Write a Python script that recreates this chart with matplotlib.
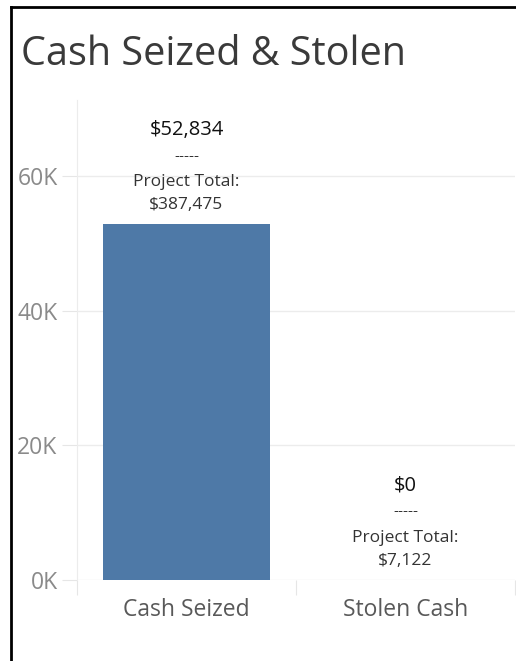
import matplotlib
matplotlib.use("Agg")
import matplotlib.pyplot as plt
from matplotlib.lines import Line2D

plt.rcParams["font.family"] = ["Open Sans", "DejaVu Sans"]

categories = ["Cash Seized", "Stolen Cash"]
amounts = [52834, 0]
project_totals = [387475, 7122]
y_ticks = [0, 20000, 40000, 60000]
y_tick_labels = ["0K", "20K", "40K", "60K"]


def main():
    fig = plt.figure(figsize=(5.16, 6.61), dpi=100)
    ax = fig.add_axes([77 / 516, 81 / 661, 438 / 516, 480 / 661])

    x = range(len(categories))
    ax.bar(x, amounts, width=0.76, color="#4e79a7", zorder=3)

    # Labels above each bar: value, separator, project total.
    for i, (val, tot) in enumerate(zip(amounts, project_totals)):
        ax.annotate("${:,}".format(val), (i, val), xytext=(0, 94),
                    textcoords="offset pixels", ha="center", va="center",
                    fontsize=14.5, color="#111111")
        ax.annotate("-----", (i, val), xytext=(0, 68),
                    textcoords="offset pixels", ha="center", va="center",
                    fontsize=11, color="#333333")
        ax.annotate("Project Total:", (i, val), xytext=(0, 42),
                    textcoords="offset pixels", ha="center", va="center",
                    fontsize=12.5, color="#333333")
        ax.annotate("${:,}".format(tot), (i, val), xytext=(0, 19),
                    textcoords="offset pixels", ha="center", va="center",
                    fontsize=12.5, color="#333333")

    ax.set_xlim(-0.5, 1.5)
    ax.set_ylim(0, 71300)
    ax.set_yticks(y_ticks)
    ax.set_yticklabels(y_tick_labels, fontsize=16.5, color="#8a8a8a")
    ax.set_xticks([-0.5, 0.5, 1.5])
    ax.set_xticklabels([])
    ax.set_xticks([0, 1], minor=True)
    ax.set_xticklabels(categories, minor=True, fontsize=16.5, color="#595959")
    ax.tick_params(axis="x", which="major", length=11, color="#e6e6e6")
    ax.tick_params(axis="x", which="minor", length=0, pad=13)
    ax.tick_params(axis="y", length=11, color="#e6e6e6", pad=3)

    ax.grid(axis="y", color="#ececec", linewidth=1, zorder=0)
    for side in ["top", "right", "bottom"]:
        ax.spines[side].set_visible(False)
    ax.spines["left"].set_color("#ececec")

    fig.text(21 / 516, 1 - 55 / 661, "Cash Seized & Stolen", fontsize=28.5,
             color="#3a3a3a", va="center", ha="left")

    # Dashboard frame (left and top edges).
    fig.add_artist(Line2D([11 / 516, 11 / 516], [0, 1 - 7 / 661],
                          transform=fig.transFigure, color="black", lw=2))
    fig.add_artist(Line2D([11 / 516, 1], [1 - 7 / 661, 1 - 7 / 661],
                          transform=fig.transFigure, color="black", lw=2))

    fig.savefig("out.png", dpi=100)


if __name__ == "__main__":
    main()
